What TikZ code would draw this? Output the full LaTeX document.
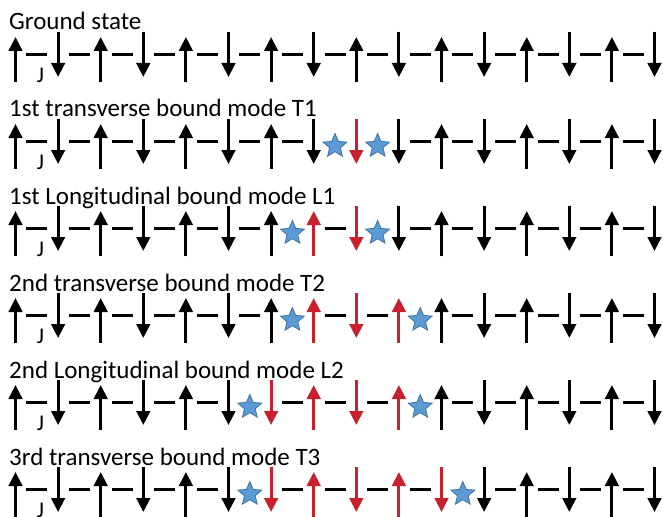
\documentclass[tikz,border=0pt]{standalone}
\usepackage{fontspec}
\setmainfont{Carlito}
\usetikzlibrary{arrows.meta,shapes.geometric}
\definecolor{spinred}{RGB}{200,32,44}
\definecolor{starfill}{RGB}{91,155,213}
\definecolor{staredge}{RGB}{65,113,156}
\begin{document}
\begin{tikzpicture}[x=1pt,y=-1pt,
  spin/.style={line width=3pt,-{Triangle[width=13.5pt,length=14pt]}},
  bond/.style={line width=2.2pt,black},
  title/.style={anchor=base west,inner sep=0pt,font=\fontsize{25}{29}\selectfont},
  coupling/.style={anchor=north,inner sep=0pt,font=\fontsize{22.5}{26}\selectfont},
  defect/.style={star,star points=5,star point ratio=2.2,minimum size=25pt,
    inner sep=0pt,fill=starfill,draw=staredge,line width=0.8pt}]
\useasboundingbox (0,0) rectangle (663,516);
% each row: index, caption, first and last flipped spin
\foreach \r/\ttl/\a/\b in {
  0/{Ground state}/99/-99,
  1/{1st transverse bound mode T1}/8/8,
  2/{1st Longitudinal bound mode L1}/7/8,
  3/{2nd transverse bound mode T2}/7/9,
  4/{2nd Longitudinal bound mode L2}/6/9,
  5/{3rd transverse bound mode T3}/6/10}{
  \pgfmathsetmacro\yb{32+87*\r}
  \pgfmathsetmacro\yt{30+87*\r}
  \node[title] (title\r) at (9,\yt) {\ttl};
  \node[coupling] (J\r) at (40.5,\yb+35.5) {J};
  % spins
  \foreach \i in {0,...,15}{
    \pgfmathsetmacro\xx{15.5+42.6*\i}
    \pgfmathtruncatemacro\flip{and(\i>=\a,\i<=\b)}
    \pgfmathtruncatemacro\isup{mod(\i+\flip,2)==0}
    \ifnum\flip=1 \def\spincol{spinred}\else\def\spincol{black}\fi
    \ifnum\isup=1
      \draw[spin,\spincol] (\xx,\yb+50) -- (\xx,\yb+5);
    \else
      \draw[spin,\spincol] (\xx,\yb) -- (\xx,\yb+45);
    \fi
  }
  % bonds: a dash, or a star where the bond is broken
  \foreach \k in {0,...,14}{
    \pgfmathsetmacro\xm{15.5+42.6*\k+21.3}
    \pgfmathtruncatemacro\broken{or(\k==\a-1,\k==\b)}
    \ifnum\broken=1
      \node[defect] (s\r-\k) at (\xm,\yb+27) {};
    \else
      \draw[bond] (\xm-10.5,\yb+22.5) -- (\xm+10.5,\yb+22.5);
    \fi
  }
}
\end{tikzpicture}
\end{document}
